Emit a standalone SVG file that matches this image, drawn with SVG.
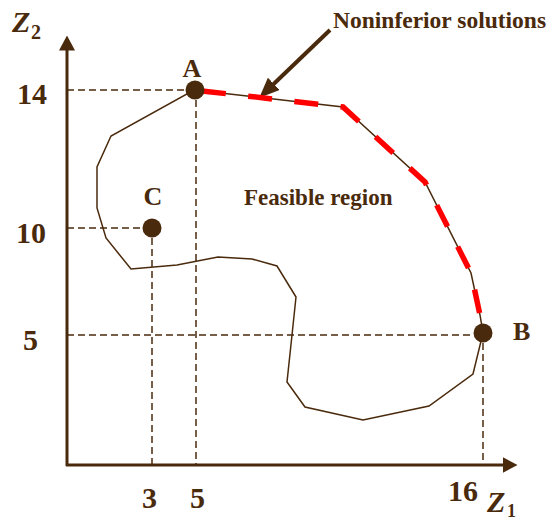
<svg xmlns="http://www.w3.org/2000/svg" width="552" height="522" viewBox="0 0 552 522">
<style>
.t{font-family:"Liberation Serif","Times New Roman",serif;font-weight:bold;fill:#4a2a0c}
.axis{stroke:#4a2a0c;stroke-width:3;fill:none}
.guide{stroke:#4a2a0c;stroke-width:1.5;stroke-dasharray:7,4;fill:none}
.bound{stroke:#4a2a0c;stroke-width:1.5;fill:none;stroke-linejoin:miter}
.front{stroke:#ff0000;stroke-width:5.5;fill:none;stroke-dasharray:24,22.5;stroke-dashoffset:-8}
.dot{fill:#4a2a0c}
</style>
<defs>
<marker id="axhead" markerUnits="userSpaceOnUse" markerWidth="15" markerHeight="16" viewBox="0 0 15 16" refX="0.5" refY="8" orient="auto">
<path d="M0,0 L15,8 L0,16 z" fill="#4a2a0c"/>
</marker>
<marker id="callhead" markerUnits="userSpaceOnUse" markerWidth="20" markerHeight="17" viewBox="0 0 20 17" refX="0.5" refY="8.5" orient="auto">
<path d="M0,0 L20,8.5 L0,17 z" fill="#4a2a0c"/>
</marker>
</defs>
<g id="axes">
<line class="axis" x1="67" y1="466" x2="67" y2="50" marker-end="url(#axhead)"/>
<line class="axis" x1="66" y1="465" x2="503" y2="465" marker-end="url(#axhead)"/>
<text class="t" x="12" y="32" font-size="30" font-style="italic">Z</text>
<text class="t" x="31" y="39" font-size="20">2</text>
<text class="t" x="487" y="512" font-size="30" font-style="italic">Z</text>
<text class="t" x="507" y="517" font-size="18">1</text>
<text class="t" x="17" y="104" font-size="30">14</text>
<text class="t" x="16" y="243" font-size="30">10</text>
<text class="t" x="23" y="350" font-size="30">5</text>
<text class="t" x="142" y="508" font-size="30">3</text>
<text class="t" x="190" y="508" font-size="30">5</text>
<text class="t" x="448" y="501" font-size="30">16</text>
</g>
<g id="connectors">
<line class="guide" x1="67" y1="90" x2="186" y2="90"/>
<line class="guide" x1="196" y1="100" x2="196" y2="465"/>
<line class="guide" x1="67" y1="228" x2="143" y2="228"/>
<line class="guide" x1="152" y1="238" x2="152" y2="465"/>
<line class="guide" x1="67" y1="335" x2="474" y2="335"/>
<line class="guide" x1="483" y1="343" x2="483" y2="465"/>
<line x1="330" y1="30" x2="273.4" y2="84.2" stroke="#4a2a0c" stroke-width="4" marker-end="url(#callhead)"/>
</g>
<g id="feasible-region">
<path class="bound" d="M194,90 L343,107 L425,182 L471,273 L480,315 L483,333 L473,374 L429,406 L363,420 L305,407 L287,382 L292,335 L296,297 L277,266 L252,259 L218,257 L177,265 L131,269 L106,238 L97,208 L97,167 L111,136 Z"/>
<text class="t" x="244" y="205" font-size="23">Feasible region</text>
</g>
<g id="noninferior-frontier">
<path class="front" d="M194,90 L343,107 L425,182 L471,273 L480,315"/>
</g>
<g id="label-noninferior">
<text class="t" x="333" y="28" font-size="23.5">Noninferior solutions</text>
</g>
<g id="point-A">
<circle class="dot" cx="195" cy="90" r="9.5"/>
<text class="t" x="192" y="77" font-size="26" text-anchor="middle">A</text>
</g>
<g id="point-C">
<circle class="dot" cx="152" cy="228" r="9.5"/>
<text class="t" x="153" y="205" font-size="26" text-anchor="middle">C</text>
</g>
<g id="point-B">
<circle class="dot" cx="483" cy="333" r="9.5"/>
<text class="t" x="513" y="340" font-size="26">B</text>
</g>
</svg>
